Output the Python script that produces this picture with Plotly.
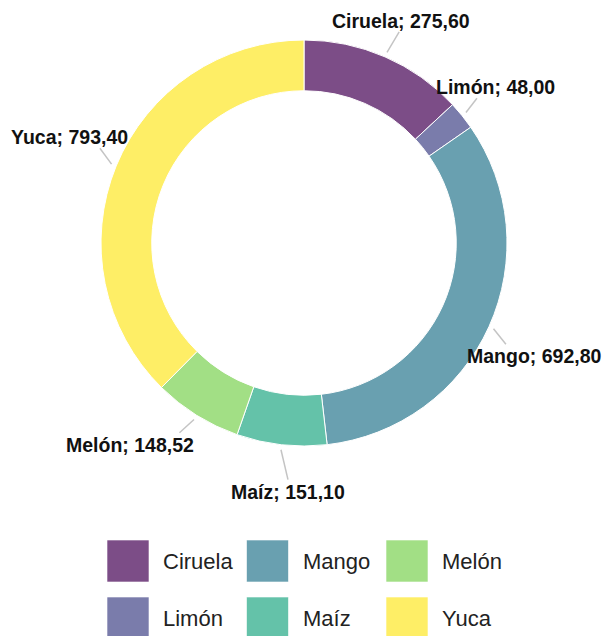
import math
import plotly.graph_objects as go

# ---- data ----
labels = ["Ciruela", "Limón", "Mango", "Maíz", "Melón", "Yuca"]
values = [275.60, 48.00, 692.80, 151.10, 148.52, 793.40]
colors = ["#440154", "#414487", "#2A788E", "#22A884", "#7AD151", "#FDE725"]

# ---- layout constants (pixels) ----
W, H = 606, 636
CX, CY, R = 304, 243, 203
HOLE = 0.75
ALPHA = 0.7
FONT = "Liberation Sans, Arial, Helvetica, sans-serif"

# per-slice label tweaks (style/position only)
end_offset = [(5, -4), (-3, -3), (-4, 8), (9, 12), (-5, -2), (5, -9)]
label_xshift = [2, 19, 29, 0, -49, -30]


def rgba(h, a=ALPHA):
    h = h.lstrip("#")
    r, g, b = int(h[0:2], 16), int(h[2:4], 16), int(h[4:6], 16)
    return f"rgba({r},{g},{b},{a})"


def px(x):
    return x / W


def py(y):
    return 1 - y / H


def fmt(v):
    return f"{v:.2f}".replace(".", ",")


fig = go.Figure(
    go.Pie(
        labels=labels,
        values=values,
        sort=False,
        direction="clockwise",
        rotation=0,
        hole=HOLE,
        marker=dict(colors=[rgba(c) for c in colors], line=dict(color="white", width=1)),
        textinfo="none",
        hoverinfo="label+value",
        showlegend=False,
        domain=dict(x=[px(CX - R), px(CX + R)], y=[py(CY + R), py(CY - R)]),
    )
)

shapes = []
annotations = []
total = sum(values)
cum = 0.0
for i, (lab, v) in enumerate(zip(labels, values)):
    theta = (cum + v / 2) / total * 2 * math.pi
    cum += v
    s, c = math.sin(theta), math.cos(theta)
    r0 = R + 5
    r1 = R + 23
    x0, y0 = CX + r0 * s, CY - r0 * c
    x1 = CX + r1 * s + end_offset[i][0]
    y1 = CY - r1 * c + end_offset[i][1]
    shapes.append(dict(type="line", xref="paper", yref="paper",
                       x0=px(x0), y0=py(y0), x1=px(x1), y1=py(y1),
                       line=dict(color="#c4c4c4", width=1.5)))
    top_half = c > 0
    annotations.append(dict(
        xref="paper", yref="paper", x=px(x1), y=py(y1),
        xanchor="center", yanchor="bottom" if top_half else "top",
        xshift=label_xshift[i], yshift=-2 if top_half else 1,
        showarrow=False,
        text=f"<b>{lab}; {fmt(v)}</b>",
        font=dict(family=FONT, size=19.5, color="#111111"),
    ))

# manual legend: 3 columns x 2 rows, column-major order
SW = 42
for i, (lab, col) in enumerate(zip(labels, colors)):
    ci, ri = i // 2, i % 2
    sx = 107 + ci * 139.5
    sy = 540 + ri * 57
    shapes.append(dict(type="rect", xref="paper", yref="paper",
                       x0=px(sx), x1=px(sx + SW), y0=py(sy), y1=py(sy + SW),
                       fillcolor=rgba(col), line=dict(color="rgba(255,255,255,0.6)", width=1)))
    annotations.append(dict(
        xref="paper", yref="paper", x=px(sx + 54), y=py(sy + SW / 2),
        xanchor="left", yanchor="middle", showarrow=False, text=lab,
        font=dict(family=FONT, size=22, color="#222222"),
    ))

fig.update_layout(
    width=W, height=H,
    margin=dict(l=0, r=0, t=0, b=0),
    paper_bgcolor="white", plot_bgcolor="white",
    shapes=shapes, annotations=annotations,
    showlegend=False,
)

fig.write_html("out.html", config={"displayModeBar": False},
               post_script="document.body.style.margin='0';")
